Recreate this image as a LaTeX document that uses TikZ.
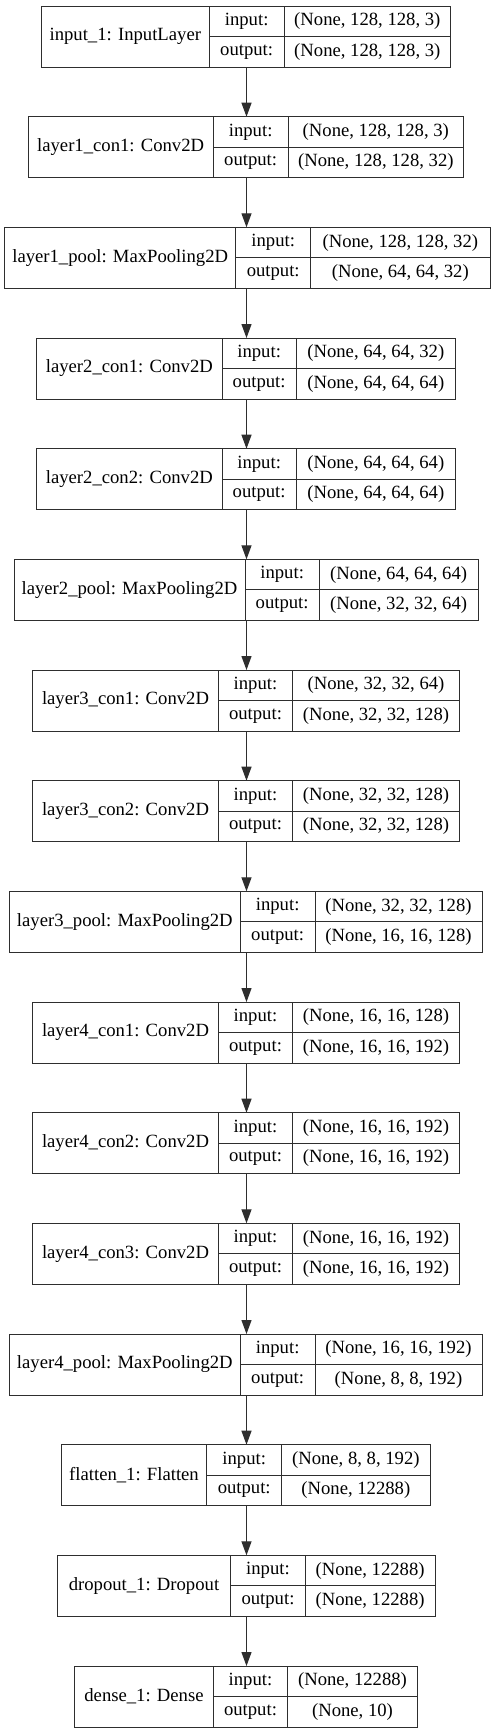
\documentclass[tikz,border=0pt]{standalone}
\usepackage{fontspec}
\setmainfont{Liberation Serif}
\usetikzlibrary{arrows.meta}
\tikzset{
  cell/.style={draw=black!82, line width=1pt, inner sep=0pt, outer sep=0pt, anchor=north west,
    font=\fontsize{18.67}{22}\selectfont, text=black},
  box/.style={inner sep=0pt, outer sep=0pt, anchor=north west, minimum height=61pt},
  link/.style={draw=black!82, line width=1.2pt, -{Triangle[length=14pt,width=10pt]}}
}
% name, top, x0, x1, x2, x3, label, in, out
\newcommand{\klayer}[9]{%
  \node[box, minimum width={#6pt-#3pt}] (#1) at (#3,#2) {};
  \node[cell, minimum width={#4pt-#3pt}, minimum height=61pt] (#1-l) at (#3,#2) {#7};
  \node[cell, minimum width={#5pt-#4pt}, minimum height=30.5pt] (#1-il) at (#4,#2) {input:};
  \node[cell, minimum width={#6pt-#5pt}, minimum height=30.5pt] (#1-iv) at (#5,#2) {#8};
  \node[cell, minimum width={#5pt-#4pt}, minimum height=30.5pt] (#1-ol) at (#4,#2+30.5) {output:};
  \node[cell, minimum width={#6pt-#5pt}, minimum height=30.5pt] (#1-ov) at (#5,#2+30.5) {#9};
}
\begin{document}
\begin{tikzpicture}[x=1pt,y=-1pt]
\useasboundingbox (0,0) rectangle (492,1733);
\coordinate (axis) at (246.5,0);
\klayer{b0}{6}{41.3}{209.3}{284}{450.7}{input\_1: InputLayer}{(None, 128, 128, 3)}{(None, 128, 128, 3)}
\klayer{b1}{116.7}{28}{213.3}{288}{463.7}{layer1\_con1: Conv2D}{(None, 128, 128, 3)}{(None, 128, 128, 32)}
\klayer{b2}{227.3}{4.7}{235.7}{310.7}{490}{layer1\_pool: MaxPooling2D}{(None, 128, 128, 32)}{(None, 64, 64, 32)}
\klayer{b3}{338}{36.7}{222}{296.3}{455.3}{layer2\_con1: Conv2D}{(None, 64, 64, 32)}{(None, 64, 64, 64)}
\klayer{b4}{448.7}{36.7}{222}{296.3}{455.3}{layer2\_con2: Conv2D}{(None, 64, 64, 64)}{(None, 64, 64, 64)}
\klayer{b5}{559.3}{14}{245}{319.3}{478}{layer2\_pool: MaxPooling2D}{(None, 64, 64, 64)}{(None, 32, 32, 64)}
\klayer{b6}{670}{32.7}{218.3}{292.7}{459.3}{layer3\_con1: Conv2D}{(None, 32, 32, 64)}{(None, 32, 32, 128)}
\klayer{b7}{780.7}{32.7}{218.3}{292.7}{459.3}{layer3\_con2: Conv2D}{(None, 32, 32, 128)}{(None, 32, 32, 128)}
\klayer{b8}{891.3}{9.3}{240.3}{315}{482}{layer3\_pool: MaxPooling2D}{(None, 32, 32, 128)}{(None, 16, 16, 128)}
\klayer{b9}{1002}{32.7}{218.3}{292.7}{459.3}{layer4\_con1: Conv2D}{(None, 16, 16, 128)}{(None, 16, 16, 192)}
\klayer{b10}{1112.7}{32.7}{218.3}{292.7}{459.3}{layer4\_con2: Conv2D}{(None, 16, 16, 192)}{(None, 16, 16, 192)}
\klayer{b11}{1223.3}{32.7}{218.3}{292.7}{459.3}{layer4\_con3: Conv2D}{(None, 16, 16, 192)}{(None, 16, 16, 192)}
\klayer{b12}{1334}{9.3}{240.3}{315}{482}{layer4\_pool: MaxPooling2D}{(None, 16, 16, 192)}{(None, 8, 8, 192)}
\klayer{b13}{1444.7}{61.3}{206.7}{281.7}{430}{flatten\_1: Flatten}{(None, 8, 8, 192)}{(None, 12288)}
\klayer{b14}{1555.3}{57.3}{230.7}{305.3}{435}{dropout\_1: Dropout}{(None, 12288)}{(None, 12288)}
\klayer{b15}{1666}{74.7}{213.3}{287.7}{417.3}{dense\_1: Dense}{(None, 12288)}{(None, 10)}
\foreach \a/\b in {b0/b1,b1/b2,b2/b3,b3/b4,b4/b5,b5/b6,b6/b7,b7/b8,b8/b9,b9/b10,b10/b11,b11/b12,b12/b13,b13/b14,b14/b15}
  \draw[link] (\a.south -| axis) -- (\b.north -| axis);
\end{tikzpicture}
\end{document}
